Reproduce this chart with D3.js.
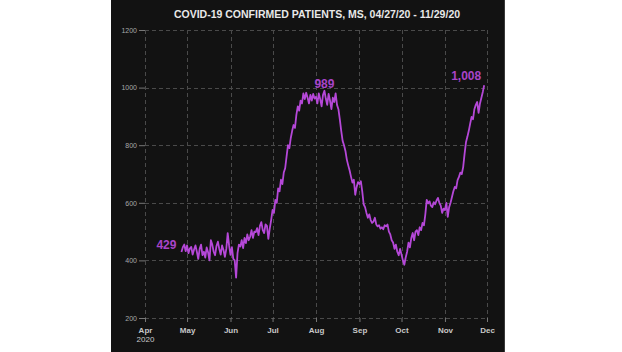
<!DOCTYPE html>
<html>
<head>
<meta charset="utf-8">
<script src="https://cdn.jsdelivr.net/npm/d3@7"></script>
<style>
  html, body { margin: 0; padding: 0; background: #fff; }
  svg { display: block; }
</style>
</head>
<body>
<div class="canvas"></div>
<script>
// daily confirmed patients, 04/27/20 - 11/29/20
const startDate = '2020-04-27'
const apr = [429, 446, 455, 432]
const may = [452, 425, 441, 447, 420, 438, 452, 430, 405, 440, 455, 418, 430, 410, 445, 428, 400, 470, 455, 430,
  418, 450, 465, 440, 420, 452, 436, 412, 440, 495, 452]
const jun = [419, 446, 405, 400, 340, 425, 455, 448, 470, 443, 478, 460, 490, 470, 482, 505, 478, 500, 498, 512,
  488, 520, 533, 505, 495, 525, 520, 475, 510, 540]
const jul = [575, 565, 610, 600, 650, 640, 680, 665, 705, 720, 760, 800, 790, 825, 850, 870, 860, 905, 935, 920,
  955, 945, 980, 960, 982, 965, 945, 975, 955, 978, 962]
const aug = [968, 945, 980, 960, 935, 975, 989, 962, 940, 978, 955, 925, 965, 950, 980, 940, 925, 890, 850, 815,
  800, 780, 750, 730, 712, 690, 670, 680, 628, 655, 672]
const sep = [665, 675, 640, 595, 585, 565, 548, 560, 540, 530, 535, 548, 525, 518, 522, 510, 515, 508, 522, 518,
  525, 500, 490, 470, 462, 440, 455, 430, 418, 440]
const oct = [420, 400, 385, 410, 430, 462, 445, 478, 495, 470, 500, 505, 488, 515, 505, 530, 522, 560, 610, 598,
  605, 590, 585, 602, 595, 608, 617, 600, 590, 565, 580]
const nov = [575, 600, 551, 585, 600, 620, 640, 655, 650, 679, 690, 705, 700, 724, 770, 810, 829, 850, 875, 898,
  890, 925, 940, 950, 912, 945, 965, 985, 1008]

const yTicks = [200, 400, 600, 800, 1000, 1200]
const title = 'COVID-19 CONFIRMED PATIENTS, MS, 04/27/20 - 11/29/20'
const callouts = [
  { date: '2020-04-27', value: 429, text: '429', anchor: 'end', dx: -5, dy: -3 },
  { date: '2020-08-07', value: 989, text: '989', anchor: 'middle', dx: 0, dy: -3 },
  { date: '2020-11-29', value: 1008, text: '1,008', anchor: 'end', dx: -3, dy: -5 }
]

const parse = d3.timeParse('%Y-%m-%d')
const values = [].concat(apr, may, jun, jul, aug, sep, oct, nov)
const data = values.map((v, i) => ({ date: d3.timeDay.offset(parse(startDate), i), value: v }))

const svg = d3.select('.canvas')
  .append('svg')
  .attr('width', 622)
  .attr('height', 352)

// dark panel
svg.append('rect')
  .attr('x', 111).attr('y', 0)
  .attr('width', 393).attr('height', 352)
  .attr('fill', '#121212')
svg.append('line')
  .attr('x1', 504.5).attr('x2', 504.5).attr('y1', 0).attr('y2', 352)
  .attr('stroke', '#3a3a3a')

const x = d3.scaleTime()
  .domain([parse('2020-04-01'), parse('2020-12-01')])
  .range([145, 487])
const y = d3.scaleLinear()
  .domain([200, 1200])
  .range([318, 30])

const months = d3.timeMonth.range(parse('2020-04-01'), parse('2020-12-02'))

// grid
const grid = svg.append('g').attr('stroke', '#4a4a4a').attr('stroke-dasharray', '4,3')
grid.selectAll('.h').data(yTicks).enter().append('line')
  .attr('x1', 145).attr('x2', 487)
  .attr('y1', d => Math.round(y(d)) + 0.5).attr('y2', d => Math.round(y(d)) + 0.5)
grid.selectAll('.v').data(months).enter().append('line')
  .attr('x1', d => Math.round(x(d)) + 0.5).attr('x2', d => Math.round(x(d)) + 0.5)
  .attr('y1', 30).attr('y2', 318)

// axes
const yAxis = d3.axisLeft(y).tickValues(yTicks).tickSize(6).tickPadding(2)
  .tickFormat(d3.format('d'))
const xAxis = d3.axisBottom(x).tickValues(months).tickSize(4).tickPadding(5)
  .tickFormat(d3.timeFormat('%b'))

const yAxisGroup = svg.append('g').attr('transform', 'translate(145,0)').call(yAxis)
const xAxisGroup = svg.append('g').attr('transform', 'translate(0,318)').call(xAxis)

;[yAxisGroup, xAxisGroup].forEach(g => {
  g.select('.domain').remove()
  g.selectAll('.tick line').attr('stroke', '#777')
})
yAxisGroup.selectAll('text')
  .attr('fill', '#a8a8a8')
  .style('font', '7px "Liberation Sans", Arial, sans-serif')
xAxisGroup.selectAll('text')
  .attr('fill', '#c8c8c8')
  .style('font', 'bold 8px "Liberation Sans", Arial, sans-serif')
xAxisGroup.select('.tick text')
  .append('tspan').attr('x', 0).attr('dy', '1.2em')
  .style('font-weight', 'normal')
  .text('2020')

// title
svg.append('text')
  .attr('x', 317).attr('y', 18)
  .attr('text-anchor', 'middle')
  .attr('fill', '#e8e8e8')
  .style('font', 'bold 10.5px "Liberation Sans", Arial, sans-serif')
  .text(title)

// the series
const line = d3.line().x(d => x(d.date)).y(d => y(d.value))
svg.append('path')
  .datum(data)
  .attr('fill', 'none')
  .attr('stroke', '#b548d8')
  .attr('stroke-width', 1.8)
  .attr('stroke-linejoin', 'round')
  .attr('d', line)

svg.selectAll('.callout').data(callouts).enter().append('text')
  .attr('x', d => x(parse(d.date)) + d.dx)
  .attr('y', d => y(d.value) + d.dy)
  .attr('text-anchor', d => d.anchor)
  .attr('fill', '#a944c9')
  .style('font', 'bold 12px "Liberation Sans", Arial, sans-serif')
  .text(d => d.text)
</script>
</body>
</html>
